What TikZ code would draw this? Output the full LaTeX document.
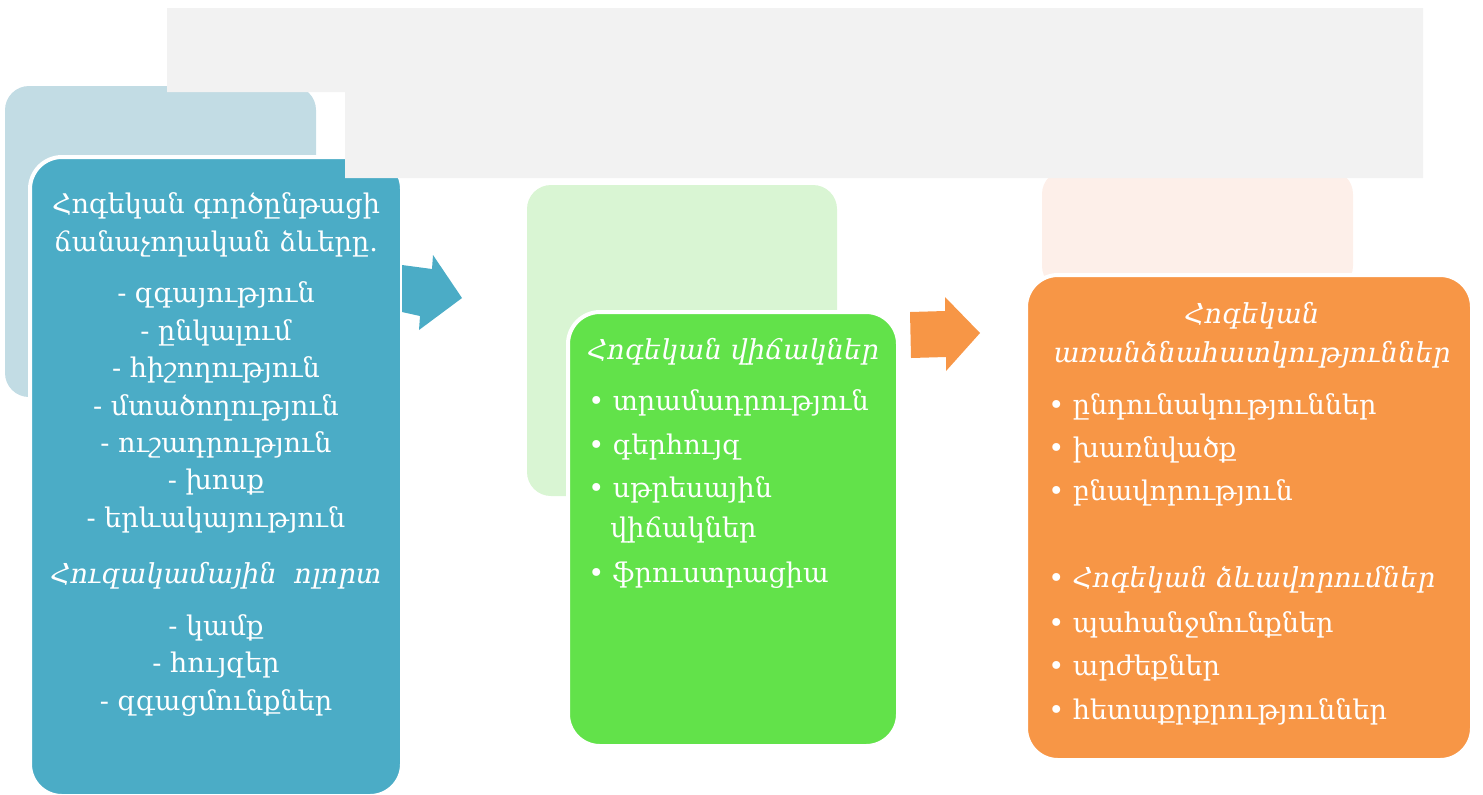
\documentclass[tikz,border=0pt]{standalone}
\usepackage{fontspec}
\setmainfont{DejaVu Serif}
\usetikzlibrary{positioning}

\definecolor{blueback}{RGB}{194,220,228}
\definecolor{bluefront}{RGB}{75,172,198}
\definecolor{greenback}{RGB}{217,245,211}
\definecolor{greenfront}{RGB}{98,226,74}
\definecolor{orangeback}{RGB}{253,239,233}
\definecolor{orangefront}{RGB}{247,150,70}
\definecolor{band}{RGB}{242,242,242}

\tikzset{
  backbox/.style={rounded corners=18pt},
  frontbox/.style={draw=white,line width=3pt,rounded corners=24pt},
  txt/.style={text=white,font=\fontsize{20.3}{28}\selectfont,inner sep=0pt},
  ttl/.style={txt,font=\fontsize{20.6}{29}\selectfont\itshape},
}

\begin{document}
\begin{tikzpicture}[x=0.75pt,y=-0.75pt]
\useasboundingbox (0,0) rectangle (1483,794);

% first column
\fill[blueback,backbox] (5,86) rectangle (316,397);
\draw[frontbox,fill=bluefront] (30,157) rectangle (402,796);
\fill[bluefront] (402,265)--(432,269)--(433,255)--(462,298)--(419,330)--(420,316)--(402,312)--cycle;

\node[txt,align=center] (ttlA) at (216,225) {Հոգեկան գործընթացի\\ճանաչողական ձևերը.};
\foreach \w [count=\i] in {զգայություն,ընկալում,հիշողություն,մտածողություն,ուշադրություն,խոսք,երևակայություն}{
  \node[txt] (a\i) at (216,295+\i*37.5-37.5) {- \w};
}
\node[ttl] (ttlB) at (216,576) {Հուզակամային~~ոլորտ};
\foreach \w [count=\i] in {կամք,հույզեր,զգացմունքներ}{
  \node[txt] (b\i) at (216,628+\i*37.5-37.5) {- \w};
}

% second column
\fill[greenback,backbox] (527,185) rectangle (837,496);
\draw[frontbox,fill=greenfront] (568,312) rectangle (898,746);
\fill[orangefront] (910,312)--(945,311)--(945,297)--(980,333)--(946,371)--(946,357)--(911,358)--cycle;

\node[ttl,anchor=west] (ttlC) at (587,352) {Հոգեկան վիճակներ};
\foreach \w/\y [count=\i] in {տրամադրություն/403,գերհույզ/447,սթրեսային/490,ֆրուստրացիա/575}{
  \node[txt,anchor=west] (c\i) at (588,\y) {•~\w};
}
\node[txt,anchor=west] (c3b) at (610,530) {վիճակներ};

% third column
\fill[orangeback,backbox] (1042,170) rectangle (1353,290);
\draw[frontbox,fill=orangefront] (1026,275) rectangle (1472,760);

\node[ttl,align=center] (ttlD) at (1252,335) {Հոգեկան\\առանձնահատկություններ};
\foreach \w/\y [count=\i] in {ընդունակություններ/407,խառնվածք/450,բնավորություն/493}{
  \node[txt,anchor=west] (d\i) at (1048,\y) {•~\w};
}
\node[txt,anchor=west] (ttlE) at (1048,580) {•~\fontsize{20.6}{29}\selectfont\itshape Հոգեկան ձևավորումներ};
\foreach \w/\y [count=\i] in {պահանջմունքներ/625,արժեքներ/668,հետաքրքրություններ/712}{
  \node[txt,anchor=west] (e\i) at (1048,\y) {•~\w};
}

% grey band on top
\fill[band] (167,8)--(1423,8)--(1423,178)--(345,178)--(345,92)--(167,92)--cycle;

\end{tikzpicture}
\end{document}
